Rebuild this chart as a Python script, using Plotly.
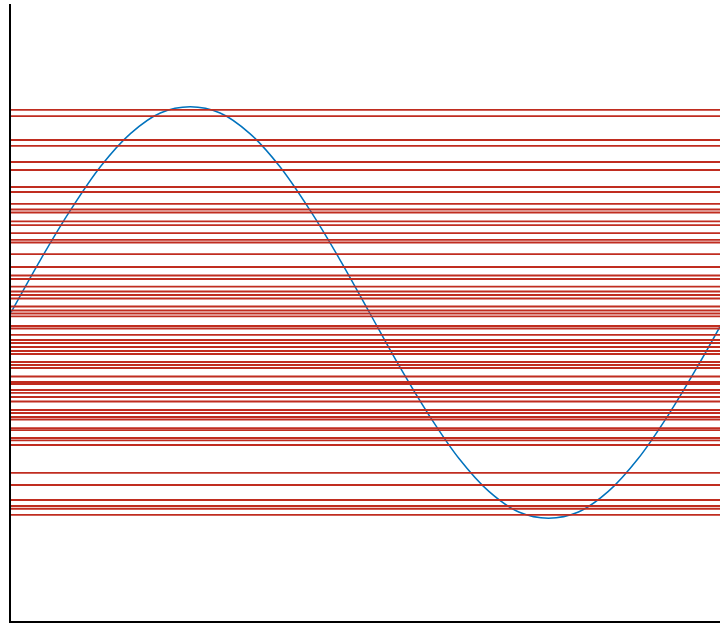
import plotly.graph_objects as go

# Curve samples (x in radians, y value)
curve_x = [0.0, 0.262, 0.524, 0.785, 1.047, 1.309, 1.571, 1.833, 2.094, 2.356, 2.618, 2.880,
           3.142, 3.403, 3.665, 3.927, 4.189, 4.451, 4.712, 4.974, 5.236, 5.498, 5.760, 6.021, 6.283]
curve_y = [0.0, 0.26, 0.50, 0.71, 0.87, 0.97, 1.0, 0.97, 0.87, 0.71, 0.50, 0.26,
           0.0, -0.26, -0.50, -0.71, -0.87, -0.97, -1.0, -0.97, -0.87, -0.71, -0.50, -0.26, 0.0]

# Horizontal line levels
levels = [0.985, 0.955, 0.839, 0.810, 0.732, 0.693, 0.610, 0.586, 0.528, 0.501, 0.486,
          0.443, 0.425, 0.386, 0.353, 0.340, 0.284, 0.221, 0.180, 0.163, 0.126, 0.102,
          0.085, 0.068, 0.029, 0.010, -0.005, -0.019, -0.066, -0.078, -0.109, -0.134,
          -0.148, -0.168, -0.187, -0.202, -0.241, -0.255, -0.270, -0.311, -0.338, -0.348,
          -0.377, -0.391, -0.411, -0.433, -0.474, -0.489, -0.508, -0.520, -0.562, -0.572,
          -0.610, -0.622, -0.644, -0.780, -0.839, -0.912, -0.941, -0.954, -0.984]

fig = go.Figure()
fig.add_trace(go.Scatter(x=curve_x, y=curve_y, mode="lines",
                         line=dict(color="#0072BD", width=1.5, shape="spline"),
                         showlegend=False, hoverinfo="skip"))

for v in levels:
    fig.add_hline(y=v, line=dict(color="rgb(192,45,32)", width=1.9))

fig.update_layout(
    width=720, height=623,
    margin=dict(l=11, r=0, t=4, b=2),
    paper_bgcolor="white", plot_bgcolor="white",
    xaxis=dict(range=[0, 6.215], showgrid=False, zeroline=False, showticklabels=False,
               ticks="", showline=True, linecolor="black", linewidth=1.5),
    yaxis=dict(range=[-1.5, 1.5], showgrid=False, zeroline=False, showticklabels=False,
               ticks="", showline=True, linecolor="black", linewidth=1.5),
)

fig.write_html("out.html", config={"displayModeBar": False},
               post_script="document.body.style.margin='0';document.body.style.overflow='hidden';")
